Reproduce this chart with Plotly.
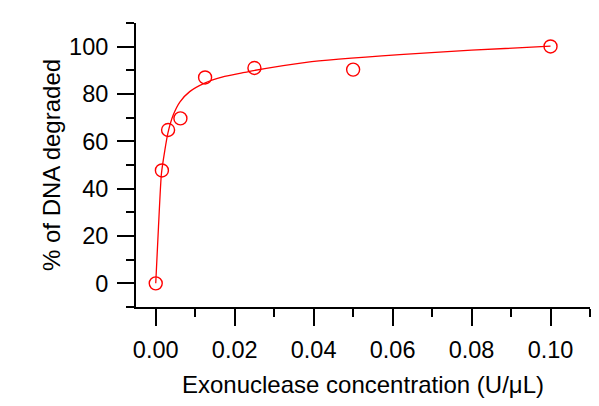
import plotly.graph_objects as go

# Measured data points
conc = [0.0, 0.0015625, 0.003125, 0.00625, 0.0125, 0.025, 0.05, 0.1]
degraded = [0.0, 47.7, 64.8, 69.7, 87.0, 91.0, 90.3, 100.1]

# Fit curve
fit_x = [0.0, 0.0007, 0.00144, 0.00228, 0.00312, 0.0044, 0.0061, 0.0086, 0.0124,
         0.017, 0.0213, 0.0248, 0.0381, 0.0618, 0.0800, 0.1]
fit_y = [0.0, 24.0, 46.3, 56.0, 63.8, 71.0, 76.6, 81.0, 84.6,
         87.2, 88.7, 89.9, 93.4, 96.6, 98.5, 100.2]

x_ticks = [0.00, 0.02, 0.04, 0.06, 0.08, 0.10]
y_ticks = [0, 20, 40, 60, 80, 100]

RED = "#ff0000"
FONT = "Arial, Liberation Sans, sans-serif"
FS = 23.5
TITLE_FS = 24

fig = go.Figure()
fig.add_trace(go.Scatter(x=fit_x, y=fit_y, mode="lines",
                         line=dict(color=RED, width=1.3, shape="spline", smoothing=0.6),
                         hoverinfo="skip", showlegend=False))
fig.add_trace(go.Scatter(x=conc, y=degraded, mode="markers",
                         marker=dict(symbol="circle-open", size=13, color=RED,
                                     line=dict(color=RED, width=1.4)),
                         showlegend=False))

axis_common = dict(showline=True, linecolor="black", linewidth=2, mirror=False,
                   ticks="outside", ticklen=17, tickwidth=2, tickcolor="black",
                   showgrid=False, zeroline=False,
                   tickfont=dict(family=FONT, size=FS, color="black"),
                   title_font=dict(family=FONT, size=TITLE_FS, color="black"))

fig.update_xaxes(range=[-0.005, 0.11], tickvals=x_ticks, tickformat=".2f",
                 ticklabelstandoff=4,
                 minor=dict(dtick=0.01, tick0=0, ticks="outside", ticklen=8,
                            tickwidth=2, tickcolor="black", showgrid=False),
                 title=dict(text="Exonuclease concentration (U/μL)", standoff=14),
                 **axis_common)
fig.update_yaxes(range=[-10, 110], tickvals=y_ticks,
                 ticklabelstandoff=4,
                 minor=dict(dtick=10, tick0=0, ticks="outside", ticklen=8,
                            tickwidth=2, tickcolor="black", showgrid=False),
                 title=dict(text="% of DNA degraded", standoff=2),
                 **axis_common)

# the page adds an 8px body margin, so the figure is sized to fit the window
fig.update_layout(width=591, height=398,
                  margin=dict(l=128, r=9, t=15, b=99, autoexpand=False),
                  paper_bgcolor="white", plot_bgcolor="white",
                  font=dict(family=FONT, color="black"))

fig.write_html("out.html")
